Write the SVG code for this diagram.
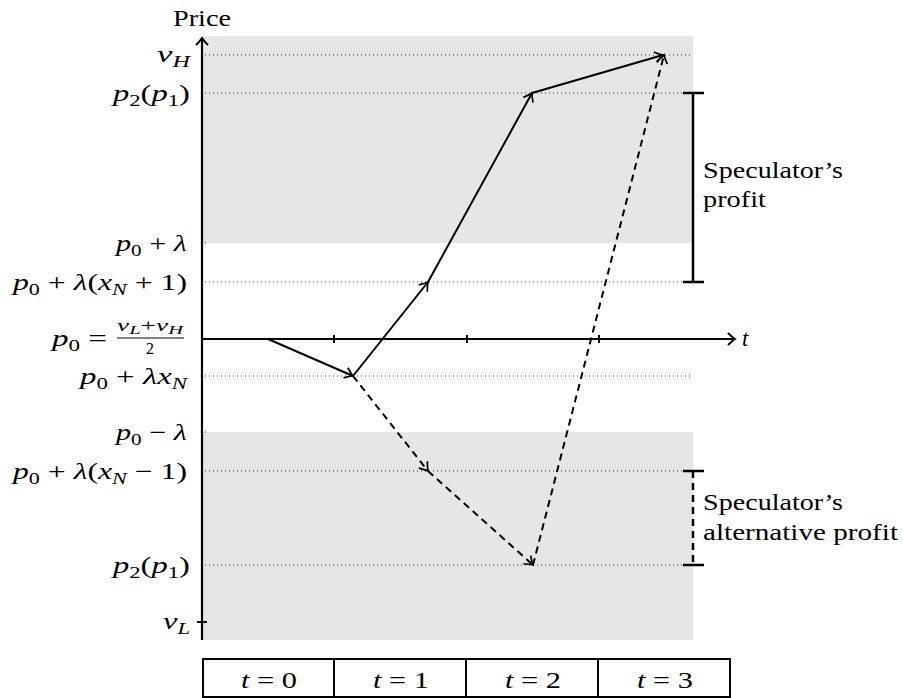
<svg xmlns="http://www.w3.org/2000/svg" width="903" height="698" viewBox="0 0 903 698" font-family="'Liberation Serif', 'Times New Roman', serif" font-size="23">
<style>
.t{font-family:'Liberation Serif','Times New Roman',serif;font-size:23px;fill:#000}
.i{font-style:italic}
.sb{font-size:16px;baseline-shift:-5px}
.sm{font-size:16px}
.ssb{font-size:12px;baseline-shift:-3px}
.band{fill:#e6e6e6}
.dot{stroke:#000;stroke-width:0.9;stroke-dasharray:0.9 3.1;fill:none}
.axis{stroke:#000;stroke-width:2.2;fill:none}
.path{stroke:#000;stroke-width:2;fill:none}
.dash{stroke-dasharray:7 5}
.br{stroke:#000;stroke-width:2.5;fill:none}
.tick{stroke:#000;stroke-width:2}
.cell{stroke:#000;stroke-width:2}
</style>
<defs>
<marker id="ah" markerUnits="userSpaceOnUse" markerWidth="20" markerHeight="20" viewBox="-10 -10 20 20" refX="0" refY="0" orient="auto">
<path d="M -8,-5.5 Q -3,-1.5 0,0 Q -3,1.5 -8,5.5" fill="none" stroke="#000" stroke-width="1.7"/>
</marker>
<marker id="axah" markerUnits="userSpaceOnUse" markerWidth="20" markerHeight="20" viewBox="-10 -10 20 20" refX="0" refY="0" orient="auto">
<path d="M -7,-6 Q -3,-2 0,0 Q -3,2 -7,6" fill="none" stroke="#000" stroke-width="2"/>
</marker>
</defs>

<g id="background">
<rect class="band" x="203" y="36" width="490" height="207"/>
<rect class="band" x="203" y="432" width="490" height="208"/>
</g>

<g id="guides">
<line class="dot" x1="205" y1="55" x2="693" y2="55"/>
<line class="dot" x1="205" y1="93" x2="683" y2="93"/>
<line class="dot" x1="205" y1="243" x2="208" y2="243"/>
<line class="dot" x1="205" y1="282" x2="683" y2="282"/>
<line class="dot" x1="205" y1="376" x2="693" y2="376"/>
<line class="dot" x1="205" y1="432" x2="208" y2="432"/>
<line class="dot" x1="205" y1="471" x2="683" y2="471"/>
<line class="dot" x1="205" y1="565" x2="683" y2="565"/>
</g>

<g id="axes">
<line class="axis" x1="202" y1="640" x2="202" y2="38" marker-end="url(#axah)"/>
<line class="axis" x1="202" y1="339" x2="735" y2="339" marker-end="url(#axah)"/>
<line class="tick" x1="334" y1="335" x2="334" y2="343"/>
<line class="tick" x1="467" y1="335" x2="467" y2="343"/>
<line class="tick" x1="599" y1="335" x2="599" y2="343"/>
<line class="tick" x1="197" y1="622" x2="207" y2="622"/>
<text id="price-label" class="t" x="173" y="26" textLength="58" lengthAdjust="spacingAndGlyphs">Price</text>
<text id="t-label" class="t i" x="742" y="346">t</text>
</g>

<g id="connectors">
<line class="path" x1="268" y1="339" x2="353" y2="376" marker-end="url(#ah)"/>
<line class="path" x1="353" y1="376" x2="428" y2="282" marker-end="url(#ah)"/>
<line class="path" x1="428" y1="282" x2="532" y2="93" marker-end="url(#ah)"/>
<line class="path" x1="532" y1="93" x2="663" y2="55" marker-end="url(#ah)"/>
<line class="path dash" x1="353" y1="376" x2="428" y2="471" marker-end="url(#ah)"/>
<line class="path dash" x1="428" y1="471" x2="533" y2="565" marker-end="url(#ah)"/>
<line class="path dash" x1="533" y1="565" x2="664" y2="55" marker-end="url(#ah)"/>
</g>

<g id="label-vH"><text class="t" x="190" y="62" text-anchor="end" textLength="33" lengthAdjust="spacingAndGlyphs"><tspan class="i">v</tspan><tspan class="i sb">H</tspan></text></g>
<g id="label-p2-upper"><text class="t" x="190" y="101" text-anchor="end" textLength="77" lengthAdjust="spacingAndGlyphs"><tspan class="i">p</tspan><tspan class="sb">2</tspan>(<tspan class="i">p</tspan><tspan class="sb">1</tspan>)</text></g>
<g id="label-p0-plus-lambda"><text class="t" x="187" y="251" text-anchor="end" textLength="71" lengthAdjust="spacingAndGlyphs"><tspan class="i">p</tspan><tspan class="sb">0</tspan> + <tspan class="i">λ</tspan></text></g>
<g id="label-xN-plus-1"><text class="t" x="187" y="290" text-anchor="end" textLength="174" lengthAdjust="spacingAndGlyphs"><tspan class="i">p</tspan><tspan class="sb">0</tspan> + <tspan class="i">λ</tspan>(<tspan class="i">x</tspan><tspan class="i sb">N</tspan> + 1)</text></g>
<g id="label-p0">
<text class="t" x="107" y="346" text-anchor="end" textLength="55" lengthAdjust="spacingAndGlyphs"><tspan class="i">p</tspan><tspan class="sb">0</tspan> =</text>
<text class="t sm" x="150" y="331" text-anchor="middle" textLength="66" lengthAdjust="spacingAndGlyphs"><tspan class="i">v</tspan><tspan class="i ssb">L</tspan>+<tspan class="i">v</tspan><tspan class="i ssb">H</tspan></text>
<line x1="117" y1="338" x2="184" y2="338" stroke="#000" stroke-width="1"/>
<text class="t sm" x="150" y="354" text-anchor="middle">2</text>
</g>
<g id="label-xN"><text class="t" x="187" y="384" text-anchor="end" textLength="107" lengthAdjust="spacingAndGlyphs"><tspan class="i">p</tspan><tspan class="sb">0</tspan> + <tspan class="i">λx</tspan><tspan class="i sb">N</tspan></text></g>
<g id="label-p0-minus-lambda"><text class="t" x="187" y="440" text-anchor="end" textLength="71" lengthAdjust="spacingAndGlyphs"><tspan class="i">p</tspan><tspan class="sb">0</tspan> − <tspan class="i">λ</tspan></text></g>
<g id="label-xN-minus-1"><text class="t" x="187" y="479" text-anchor="end" textLength="174" lengthAdjust="spacingAndGlyphs"><tspan class="i">p</tspan><tspan class="sb">0</tspan> + <tspan class="i">λ</tspan>(<tspan class="i">x</tspan><tspan class="i sb">N</tspan> − 1)</text></g>
<g id="label-p2-lower"><text class="t" x="190" y="573" text-anchor="end" textLength="77" lengthAdjust="spacingAndGlyphs"><tspan class="i">p</tspan><tspan class="sb">2</tspan>(<tspan class="i">p</tspan><tspan class="sb">1</tspan>)</text></g>
<g id="label-vL"><text class="t" x="190" y="629" text-anchor="end" textLength="27" lengthAdjust="spacingAndGlyphs"><tspan class="i">v</tspan><tspan class="i sb">L</tspan></text></g>

<g id="profit">
<line class="br" x1="693" y1="93" x2="693" y2="282"/>
<line class="br" x1="683" y1="93" x2="704" y2="93"/>
<line class="br" x1="683" y1="282" x2="704" y2="282"/>
<text class="t" x="703" y="178" textLength="140" lengthAdjust="spacingAndGlyphs">Speculator’s</text>
<text class="t" x="703" y="207" textLength="63" lengthAdjust="spacingAndGlyphs">profit</text>
</g>

<g id="alt-profit">
<line class="br" x1="693" y1="471" x2="693" y2="565" stroke-dasharray="7 5"/>
<line class="br" x1="683" y1="471" x2="704" y2="471"/>
<line class="br" x1="683" y1="565" x2="704" y2="565"/>
<text class="t" x="703" y="510" textLength="140" lengthAdjust="spacingAndGlyphs">Speculator’s</text>
<text class="t" x="703" y="540" textLength="195" lengthAdjust="spacingAndGlyphs">alternative profit</text>
</g>

<g id="timeline">
<rect x="203" y="659" width="527" height="38" fill="#fff" stroke="#000" stroke-width="2"/>
<line class="cell" x1="334" y1="659" x2="334" y2="697"/>
<line class="cell" x1="466" y1="659" x2="466" y2="697"/>
<line class="cell" x1="598" y1="659" x2="598" y2="697"/>
<text class="t" x="269" y="688" text-anchor="middle" textLength="56" lengthAdjust="spacingAndGlyphs"><tspan class="i">t</tspan> = 0</text>
<text class="t" x="401" y="688" text-anchor="middle" textLength="56" lengthAdjust="spacingAndGlyphs"><tspan class="i">t</tspan> = 1</text>
<text class="t" x="533" y="688" text-anchor="middle" textLength="56" lengthAdjust="spacingAndGlyphs"><tspan class="i">t</tspan> = 2</text>
<text class="t" x="665" y="688" text-anchor="middle" textLength="56" lengthAdjust="spacingAndGlyphs"><tspan class="i">t</tspan> = 3</text>
</g>
</svg>
